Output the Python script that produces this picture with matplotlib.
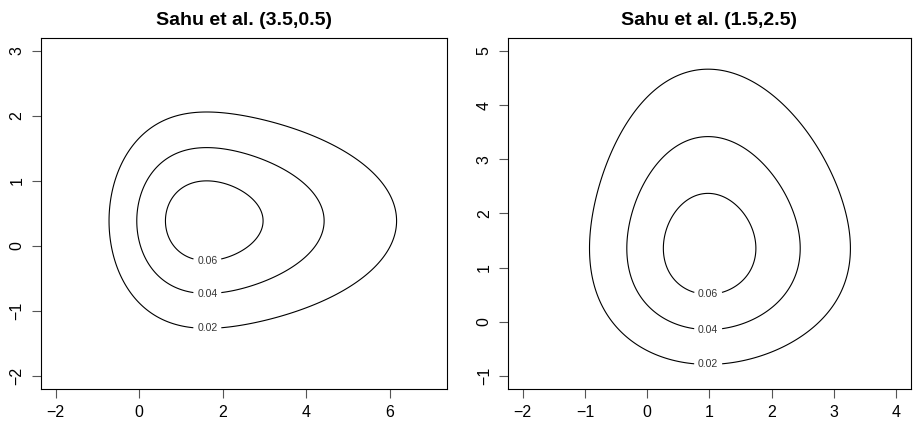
import math
import numpy as np
import matplotlib.pyplot as plt

plt.rcParams["font.family"] = ["Liberation Sans", "DejaVu Sans"]

# skewness parameters (delta) of the two Sahu et al. skew-normal densities
deltas = [(3.5, 0.5), (1.5, 2.5)]
titles = ["Sahu et al. (3.5,0.5)", "Sahu et al. (1.5,2.5)"]
levels = [0.02, 0.04, 0.06]
level_labels = ["0.02", "0.04", "0.06"]

# axis ranges and ticks (R style, 4% padding added below)
x_ranges = [(-2, 7), (-2, 4)]
y_ranges = [(-2, 3), (-1, 5)]
x_ticks = [[-2, 0, 2, 4, 6], [-2, -1, 0, 1, 2, 3, 4]]
y_ticks = [[-2, -1, 0, 1, 2, 3], [-1, 0, 1, 2, 3, 4, 5]]

erf = np.frompyfunc(math.erf, 1, 1)


def Phi(z):
    return 0.5 * (1.0 + erf(z / math.sqrt(2)).astype(float))


def sn_1d(x, d):
    # Y = d|Z0| + e, Sigma = 1
    w = math.sqrt(1 + d * d)
    return 2.0 / w * np.exp(-0.5 * (x / w) ** 2) / math.sqrt(2 * math.pi) * Phi(d * x / w)


def sahu_density(X, Y, d):
    # Sigma = I, so the two components are independent
    return sn_1d(X, d[0]) * sn_1d(Y, d[1])


fig = plt.figure(figsize=(9.16, 4.25), dpi=100)
positions = [[0.0444, 0.0847, 0.4432, 0.8259], [0.5543, 0.0847, 0.4403, 0.8259]]

for i in range(2):
    ax = fig.add_axes(positions[i])
    x0, x1 = x_ranges[i]
    y0, y1 = y_ranges[i]
    xs = np.linspace(x0, x1, 301)
    ys = np.linspace(y0, y1, 301)
    X, Y = np.meshgrid(xs, ys)
    Z = sahu_density(X, Y, deltas[i])

    cs = ax.contour(X, Y, Z, levels=levels, colors="black", linewidths=0.8)

    # put labels at the lowest point of each contour, like the original
    manual = []
    for segs in cs.allsegs:
        pts = np.concatenate(segs)
        k = np.argmin(pts[:, 1])
        manual.append((pts[k, 0], pts[k, 1]))
    ax.clabel(cs, levels=levels, manual=manual, inline=True,
              inline_spacing=5, fontsize=7.6, colors="#333333",
              fmt=dict(zip(levels, level_labels)))

    xp = 0.04 * (x1 - x0)
    yp = 0.04 * (y1 - y0)
    ax.set_xlim(x0 - xp, x1 + xp)
    ax.set_ylim(y0 - yp, y1 + yp)
    ax.set_xticks(x_ticks[i])
    ax.set_yticks(y_ticks[i])
    ax.set_xticklabels([str(t).replace("-", "\u2212") for t in x_ticks[i]])
    ax.set_yticklabels([str(t).replace("-", "\u2212") for t in y_ticks[i]],
                       rotation=90, va="center")
    ax.tick_params(direction="out", length=6.5, width=0.8, labelsize=11.5,
                   color="#555555", pad=5)
    for sp in ax.spines.values():
        sp.set_linewidth(0.8)
    ax.set_title(titles[i], fontsize=14, fontweight="bold", pad=9)

fig.savefig("out.png", dpi=100)
